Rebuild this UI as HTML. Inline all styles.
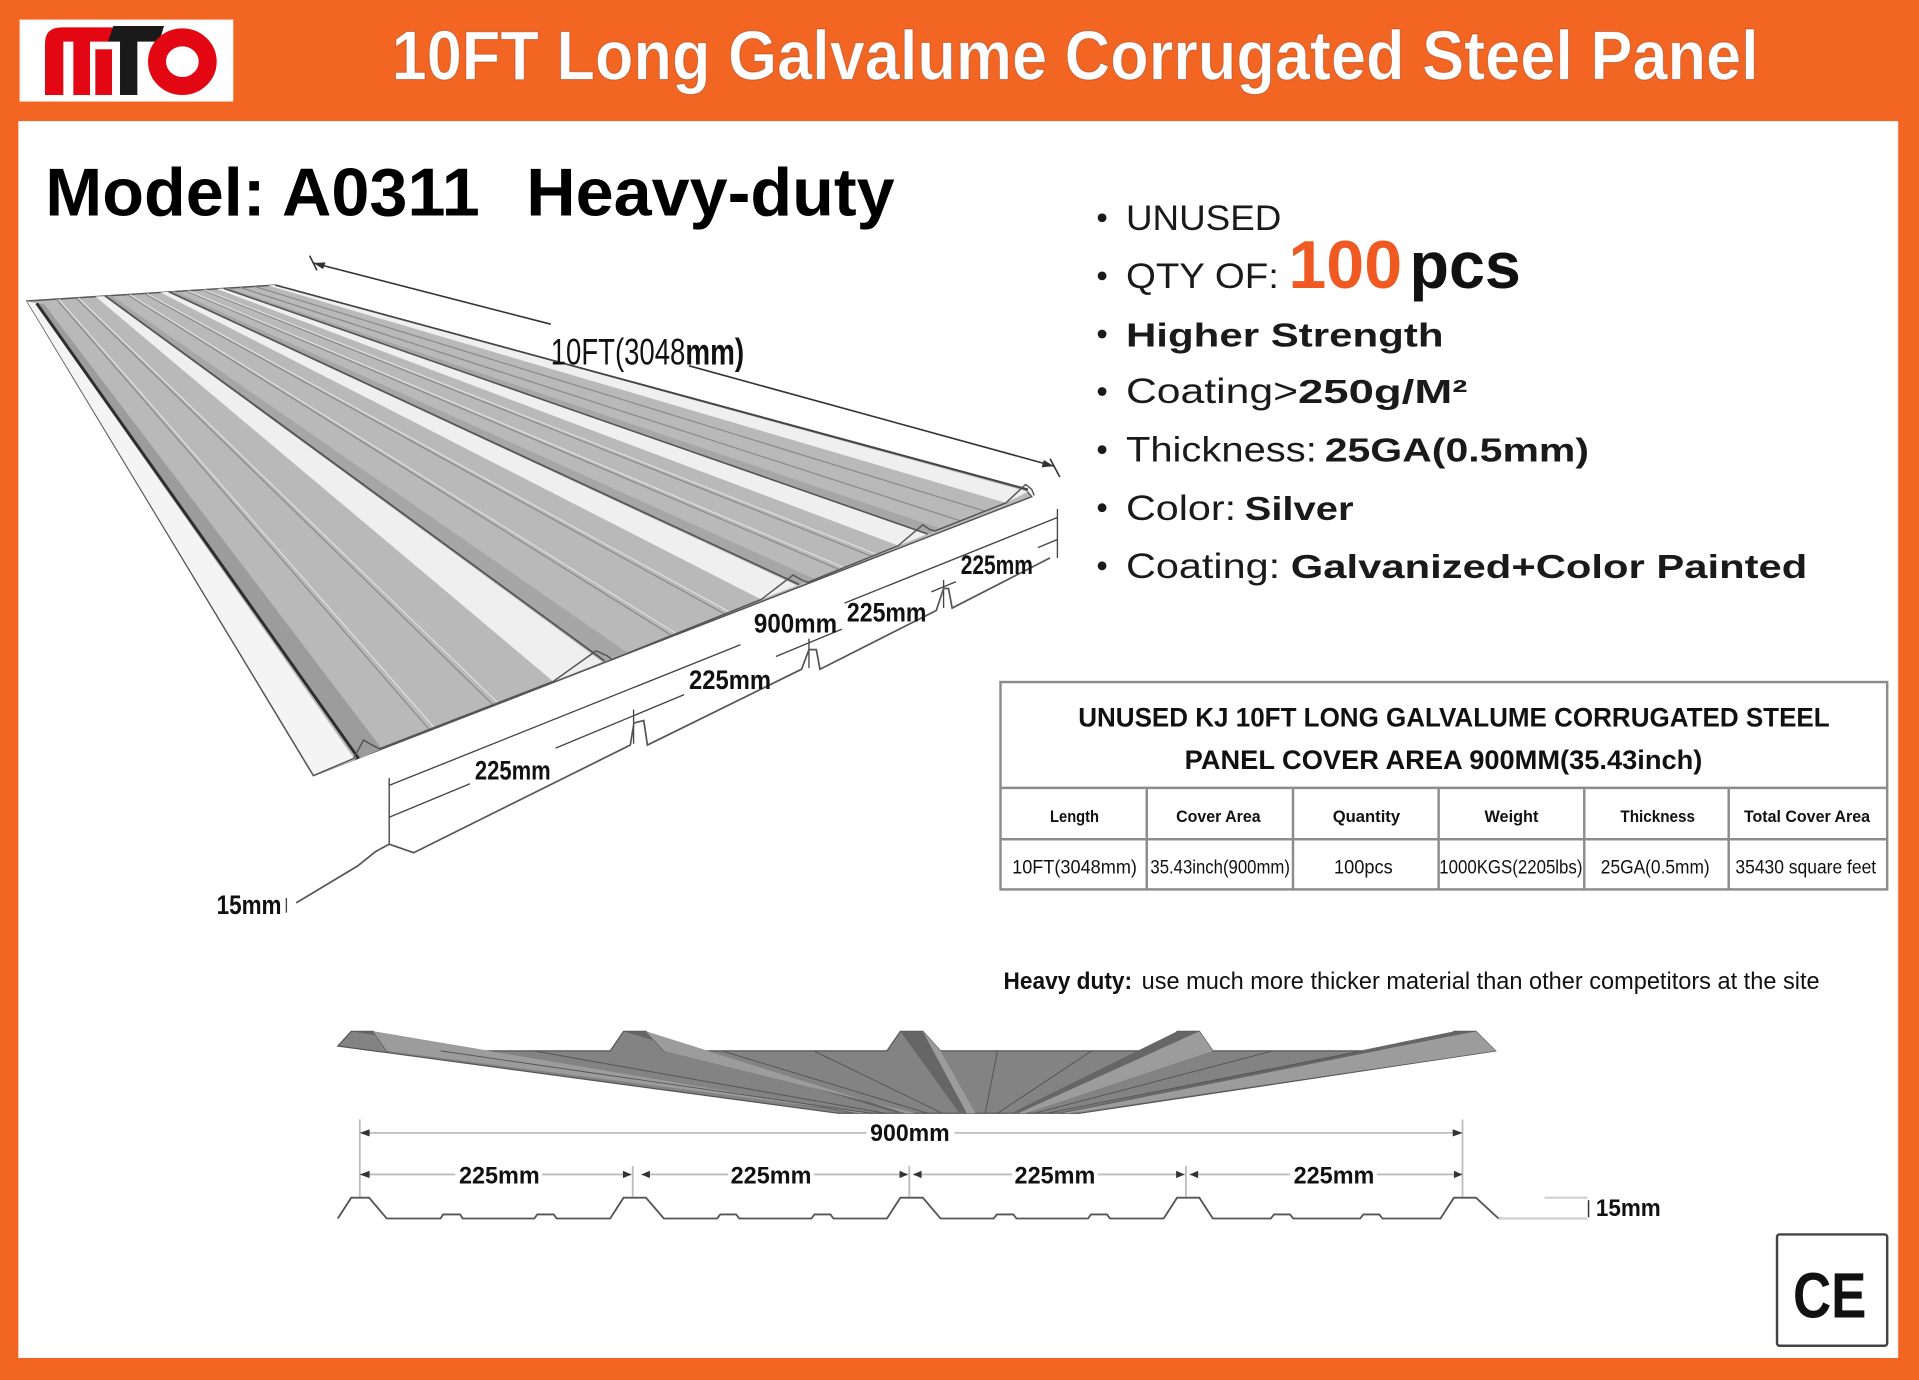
<!DOCTYPE html>
<html><head><meta charset="utf-8">
<style>
html,body{margin:0;padding:0;background:#F26522;overflow:hidden;width:1919px;height:1380px}
svg{display:block}
text{font-family:"Liberation Sans",Arial,sans-serif}
</style></head><body>
<svg width="1919" height="1380" viewBox="0 0 1568 1128" preserveAspectRatio="none" xmlns="http://www.w3.org/2000/svg">
<!-- frame -->
<rect width="1568" height="1128" fill="#F26522"/>
<rect x="15" y="99" width="1536" height="1011" fill="#ffffff"/>

<!-- logo -->
<rect x="16" y="16" width="174.6" height="67" fill="#ffffff"/>
<g transform="translate(16.34,16.34) scale(0.2724)">
  <path d="M75,225 V70 Q75,22 125,22 H285 L268,65 H210 V225 H160 V65 H130 V225 Z" fill="#E30613"/>
  <rect x="226" y="88" width="50" height="137" fill="#E30613"/>
  <path d="M280,18 H432 L418,65 H352 V225 H300 V65 H264 Z" fill="#1a1a1a"/>
  <ellipse cx="487" cy="125" rx="76" ry="73" fill="none" stroke="#E30613" stroke-width="54"/>
</g>

<!-- header title -->
<text x="320" y="65" font-size="57" font-weight="bold" fill="#ffffff" stroke="#9a3a12" stroke-width="0.8" stroke-opacity="0.5" textLength="1117" lengthAdjust="spacingAndGlyphs">10FT Long Galvalume Corrugated Steel Panel</text>

<!-- model -->
<text x="37" y="176" font-size="55" font-weight="bold" fill="#000" textLength="355" lengthAdjust="spacingAndGlyphs">Model: A0311</text>
<text x="430" y="176" font-size="55" font-weight="bold" fill="#000" textLength="301" lengthAdjust="spacingAndGlyphs">Heavy-duty</text>

<!-- bullets -->
<g fill="#1a1a1a">
  <circle cx="900.5" cy="178" r="3.6"/>
  <circle cx="900.5" cy="225.5" r="3.6"/>
  <circle cx="900.5" cy="273" r="3.6"/>
  <circle cx="900.5" cy="320" r="3.6"/>
  <circle cx="900.5" cy="367.5" r="3.6"/>
  <circle cx="900.5" cy="415" r="3.6"/>
  <circle cx="900.5" cy="462.5" r="3.6"/>
</g>
<g fill="#1a1a1a" font-size="28.5">
  <text x="920" y="188" textLength="127" lengthAdjust="spacingAndGlyphs">UNUSED</text>
  <text x="920" y="235.6" textLength="125" lengthAdjust="spacingAndGlyphs">QTY OF:</text>
  <text x="1052.7" y="235.6" font-size="55" font-weight="bold" fill="#F05A22" textLength="93" lengthAdjust="spacingAndGlyphs">100</text>
  <text x="1151.7" y="235.6" font-size="54" font-weight="bold" fill="#111" textLength="91" lengthAdjust="spacingAndGlyphs">pcs</text>
  <text x="920" y="283.3" font-size="27" font-weight="bold" textLength="259.5" lengthAdjust="spacingAndGlyphs">Higher Strength</text>
  <text x="920" y="329.6" textLength="140.6" lengthAdjust="spacingAndGlyphs">Coating&gt;</text>
  <text x="1060.6" y="329.6" font-size="27" font-weight="bold" textLength="138.4" lengthAdjust="spacingAndGlyphs">250g/M²</text>
  <text x="920" y="377.3" textLength="156" lengthAdjust="spacingAndGlyphs">Thickness:</text>
  <text x="1082.4" y="377.3" font-size="27" font-weight="bold" textLength="216" lengthAdjust="spacingAndGlyphs">25GA(0.5mm)</text>
  <text x="920" y="425" textLength="90" lengthAdjust="spacingAndGlyphs">Color:</text>
  <text x="1017" y="425" font-size="27" font-weight="bold" textLength="89" lengthAdjust="spacingAndGlyphs">Silver</text>
  <text x="920" y="472.6" textLength="126" lengthAdjust="spacingAndGlyphs">Coating:</text>
  <text x="1054.7" y="472.6" font-size="27" font-weight="bold" textLength="422" lengthAdjust="spacingAndGlyphs">Galvanized+Color Painted</text>
</g>

<!-- 3D corrugated sheet -->
<g>
  <polygon points="22,246 225,233 838,400 843,406 256,634" fill="#b9b9b9" stroke="#555" stroke-width="1.2"/>
  <!-- rib 0 (left edge) -->
  <polygon points="22,246 29,248 290,621 257,634" fill="#f4f4f4"/>
  <polygon points="31,248 36,248.5 312,612 294,620" fill="#9c9c9c"/>
  <line x1="30" y1="248" x2="293" y2="620" stroke="#2e2e2e" stroke-width="2.4"/>
  <!-- pan 0 stiffeners -->
  <line x1="46" y1="244.5" x2="351" y2="596.6" stroke="#8a8a8a" stroke-width="1"/>
  <line x1="48" y1="244.5" x2="355" y2="595" stroke="#dedede" stroke-width="1"/>
  <line x1="62" y1="243.4" x2="403" y2="576.2" stroke="#8a8a8a" stroke-width="1"/>
  <line x1="64" y1="243.4" x2="407" y2="574.6" stroke="#dedede" stroke-width="1"/>
  <!-- rib 1 -->
  <polygon points="78,242.4 85,242 492,541 452,557" fill="#efefef"/>
  <polygon points="87,241.8 91,241.6 512,533 495,540" fill="#a6a6a6"/>
  <line x1="86" y1="241.9" x2="494" y2="540.3" stroke="#555" stroke-width="1.5"/>
  <!-- pan 1 stiffeners -->
  <line x1="104" y1="240.8" x2="548" y2="519" stroke="#8a8a8a" stroke-width="1"/>
  <line x1="106" y1="240.8" x2="552" y2="517.5" stroke="#dedede" stroke-width="1"/>
  <line x1="118" y1="240" x2="592" y2="501.8" stroke="#8a8a8a" stroke-width="1"/>
  <line x1="120" y1="240" x2="596" y2="500.2" stroke="#dedede" stroke-width="1"/>
  <!-- rib 2 -->
  <polygon points="131,239 137,238.6 651,478.6 622,490" fill="#efefef"/>
  <polygon points="139,238.4 143,238.2 665,473 653,477.5" fill="#a6a6a6"/>
  <line x1="138" y1="238.5" x2="653" y2="477.8" stroke="#555" stroke-width="1.4"/>
  <!-- pan 2 stiffeners -->
  <line x1="152" y1="237.7" x2="685" y2="465.2" stroke="#8a8a8a" stroke-width="1"/>
  <line x1="154" y1="237.7" x2="689" y2="463.6" stroke="#dedede" stroke-width="1"/>
  <line x1="165" y1="236.8" x2="712" y2="454.6" stroke="#8a8a8a" stroke-width="1"/>
  <line x1="167" y1="236.8" x2="716" y2="453" stroke="#dedede" stroke-width="1"/>
  <!-- rib 3 -->
  <polygon points="177,236.1 182,235.8 757,436.9 734,446" fill="#efefef"/>
  <polygon points="184,235.6 187,235.4 769,432.2 759,436.1" fill="#a6a6a6"/>
  <line x1="183" y1="235.7" x2="758" y2="436.5" stroke="#555" stroke-width="1.3"/>
  <!-- pan 3 stiffeners -->
  <line x1="196" y1="234.9" x2="785" y2="425.8" stroke="#8a8a8a" stroke-width="1"/>
  <line x1="208" y1="234.1" x2="805" y2="417.9" stroke="#8a8a8a" stroke-width="1"/>
  <!-- rib 4 (right edge) -->
  <polygon points="219,233.4 225,233 840,402 822,411" fill="#efefef"/>
  <line x1="225" y1="233" x2="840" y2="400" stroke="#444" stroke-width="1.4"/>
  <!-- near edge notches -->
  <polyline points="256,634 289,620 297,605 304,609 310,612 452,557 487,532 496,536 500,539 622,490 648,470 655,474 660,476 734,446 754,429 760,433 764,434 822,411 838,396 843,400 845,405" fill="none" stroke="#555" stroke-width="1.2"/>
</g>

<!-- 10FT dimension -->
<g stroke="#333" stroke-width="1.3" fill="none">
  <line x1="256" y1="215" x2="450" y2="265"/>
  <line x1="563" y1="299" x2="861" y2="381"/>
  <line x1="253" y1="209" x2="259" y2="221"/>
  <line x1="858" y1="375" x2="866" y2="390"/>
</g>
<polygon points="256,215 266,214.5 264,220" fill="#333"/>
<polygon points="861,381 851,382 853,376" fill="#333"/>
<text x="450" y="298" font-size="30" fill="#111" textLength="110" lengthAdjust="spacingAndGlyphs">10FT(3048</text>
<text x="560" y="298" font-size="30" font-weight="bold" fill="#111" textLength="48" lengthAdjust="spacingAndGlyphs">mm)</text>

<!-- near edge dimensions -->
<g stroke="#444" stroke-width="1.1" fill="none">
  <line x1="318" y1="642" x2="605" y2="527"/>
  <line x1="690" y1="493" x2="864" y2="423"/>
  <line x1="318" y1="668" x2="384" y2="640.6"/>
  <line x1="454" y1="611.5" x2="559" y2="567.8"/>
  <line x1="634" y1="536.6" x2="688" y2="514.2"/>
  <line x1="761" y1="483.8" x2="781" y2="475.5"/>
  <line x1="848" y1="447.6" x2="864" y2="441"/>
  <line x1="318" y1="636" x2="318" y2="690"/>
  <line x1="517.7" y1="580" x2="517.7" y2="608"/>
  <line x1="661" y1="522" x2="661" y2="546"/>
  <line x1="771" y1="474" x2="771" y2="497"/>
  <line x1="864" y1="416" x2="864" y2="456"/>
  <polyline points="242,738 292,708 307,696 318,690 338,697 515,609 518,591 526,589 529,609 655,547 661,531 667,531 670,547 765,499 771,481 775,481 778,497 858,456" stroke="#555" stroke-width="1.4"/>
  <line x1="234" y1="734" x2="234" y2="746"/>
</g>
<g font-weight="bold" fill="#111" font-size="22">
  <text x="388" y="637" textLength="62" lengthAdjust="spacingAndGlyphs">225mm</text>
  <text x="563" y="563" textLength="67" lengthAdjust="spacingAndGlyphs">225mm</text>
  <text x="616" y="517" textLength="68" lengthAdjust="spacingAndGlyphs">900mm</text>
  <text x="692" y="508" textLength="65" lengthAdjust="spacingAndGlyphs">225mm</text>
  <text x="785" y="469" textLength="59" lengthAdjust="spacingAndGlyphs">225mm</text>
  <text x="177" y="747" textLength="53" lengthAdjust="spacingAndGlyphs">15mm</text>
</g>

<!-- table -->
<g stroke="#8c8c8c" stroke-width="2" fill="none">
  <rect x="817.5" y="557.5" width="724.5" height="169.5"/>
  <line x1="817.5" y1="644" x2="1542" y2="644"/>
  <line x1="817.5" y1="686" x2="1542" y2="686"/>
  <line x1="937" y1="644" x2="937" y2="727"/>
  <line x1="1056.5" y1="644" x2="1056.5" y2="727"/>
  <line x1="1175.5" y1="644" x2="1175.5" y2="727"/>
  <line x1="1294.5" y1="644" x2="1294.5" y2="727"/>
  <line x1="1412.5" y1="644" x2="1412.5" y2="727"/>
</g>
<g fill="#111">
  <text x="881" y="594" font-size="22" font-weight="bold" textLength="614" lengthAdjust="spacingAndGlyphs">UNUSED KJ 10FT LONG GALVALUME CORRUGATED STEEL</text>
  <text x="968" y="628.5" font-size="22" font-weight="bold" textLength="423" lengthAdjust="spacingAndGlyphs">PANEL COVER AREA 900MM(35.43inch)</text>
  <g font-size="13.5" font-weight="bold">
    <text x="858" y="672" textLength="40" lengthAdjust="spacingAndGlyphs">Length</text>
    <text x="961" y="672" textLength="69" lengthAdjust="spacingAndGlyphs">Cover Area</text>
    <text x="1089" y="672" textLength="55" lengthAdjust="spacingAndGlyphs">Quantity</text>
    <text x="1213" y="672" textLength="44" lengthAdjust="spacingAndGlyphs">Weight</text>
    <text x="1324" y="672" textLength="61" lengthAdjust="spacingAndGlyphs">Thickness</text>
    <text x="1425" y="672" textLength="103" lengthAdjust="spacingAndGlyphs">Total Cover Area</text>
  </g>
  <g font-size="16">
    <text x="827" y="714" textLength="102" lengthAdjust="spacingAndGlyphs">10FT(3048mm)</text>
    <text x="940" y="714" textLength="114" lengthAdjust="spacingAndGlyphs">35.43inch(900mm)</text>
    <text x="1090" y="714" textLength="48" lengthAdjust="spacingAndGlyphs">100pcs</text>
    <text x="1176" y="714" textLength="117" lengthAdjust="spacingAndGlyphs">1000KGS(2205lbs)</text>
    <text x="1308" y="714" textLength="89" lengthAdjust="spacingAndGlyphs">25GA(0.5mm)</text>
    <text x="1418" y="714" textLength="115" lengthAdjust="spacingAndGlyphs">35430 square feet</text>
  </g>
</g>

<!-- heavy duty line -->
<text x="820" y="808.3" font-size="20" font-weight="bold" fill="#111" textLength="105" lengthAdjust="spacingAndGlyphs">Heavy duty:</text>
<text x="932.8" y="808.3" font-size="20" fill="#111" textLength="554" lengthAdjust="spacingAndGlyphs">use much more thicker material than other competitors at the site</text>

<!-- bottom fan (end view) -->
<g>
  <polygon points="276,855 287,843 305,843 316,859 498.6,859 509.5,843 527.8,843 542.4,859 724.7,859 735.7,843 754,843 768.5,859 950.8,859 961.8,843 980,843 991,859 1177,859 1188,843 1206,843 1222,859 882,910 685,910" fill="#838383" stroke="#555" stroke-width="1"/>
  <polygon points="287,843 305,843 702,910 697,910" fill="#666"/>
  <polygon points="305,843 316,859 710,910 702,910" fill="#9c9c9c"/>
  <polygon points="509.5,843 527.8,843 740,910 734,910" fill="#666"/>
  <polygon points="527.8,843 542.4,859 748,910 740,910" fill="#9c9c9c"/>
  <polygon points="735.7,843 754,843 790,910 784,910" fill="#666"/>
  <polygon points="754,843 768.5,859 797,910 790,910" fill="#9c9c9c"/>
  <polygon points="961.8,843 980,843 832,910 826,910" fill="#666"/>
  <polygon points="980,843 991,859 838,910 832,910" fill="#9c9c9c"/>
  <polygon points="1188,843 1206,843 868,910 862,910" fill="#666"/>
  <polygon points="1206,843 1222,859 874,910 868,910" fill="#9c9c9c"/>
  <g stroke="#555" stroke-width="0.8">
    <line x1="360" y1="859" x2="712" y2="910"/>
    <line x1="436" y1="859" x2="724" y2="910"/>
    <line x1="590" y1="859" x2="758" y2="910"/>
    <line x1="665" y1="859" x2="770" y2="910"/>
    <line x1="815" y1="859" x2="805" y2="910"/>
    <line x1="892" y1="859" x2="815" y2="910"/>
    <line x1="1040" y1="859" x2="845" y2="910"/>
    <line x1="1113" y1="859" x2="855" y2="910"/>
  </g>
</g>

<!-- bottom dimensions -->
<g stroke="#bdbdbd" stroke-width="1.5">
  <line x1="294" y1="926" x2="708" y2="926"/>
  <line x1="780" y1="926" x2="1195" y2="926"/>
  <line x1="294" y1="960" x2="372" y2="960"/>
  <line x1="443" y1="960" x2="516" y2="960"/>
  <line x1="524" y1="960" x2="595" y2="960"/>
  <line x1="665" y1="960" x2="742" y2="960"/>
  <line x1="746" y1="960" x2="827" y2="960"/>
  <line x1="897" y1="960" x2="968" y2="960"/>
  <line x1="972" y1="960" x2="1054" y2="960"/>
  <line x1="1125" y1="960" x2="1195" y2="960"/>
  <line x1="294" y1="915" x2="294" y2="978"/>
  <line x1="1195" y1="915" x2="1195" y2="978"/>
  <line x1="517" y1="953" x2="517" y2="978"/>
  <line x1="743" y1="953" x2="743" y2="978"/>
  <line x1="969" y1="953" x2="969" y2="978"/>
  <line x1="1224" y1="996" x2="1297" y2="996" stroke="#d4d4d4" stroke-width="2"/>
  <line x1="1262" y1="979" x2="1297" y2="979" stroke="#d4d4d4" stroke-width="2"/>
</g>
<g fill="#333">
  <polygon points="294,926 302,923 302,929"/>
  <polygon points="1195,926 1187,923 1187,929"/>
  <polygon points="294,960 302,957 302,963"/>
  <polygon points="516,960 509,957 509,963"/>
  <polygon points="524,960 531,957 531,963"/>
  <polygon points="742,960 735,957 735,963"/>
  <polygon points="746,960 753,957 753,963"/>
  <polygon points="968,960 961,957 961,963"/>
  <polygon points="972,960 979,957 979,963"/>
  <polygon points="1195,960 1188,957 1188,963"/>
</g>
<line x1="1298" y1="981" x2="1298" y2="995" stroke="#333" stroke-width="1.2"/>
<polyline points="276,996 287,979 301.6,979 316,996 360,996 362,992.7 376,992.7 378,996 436.6,996 439,992.7 452.5,992.7 454.8,996 498.6,996 509.5,979 527.8,979 542.4,996 586,996 588.5,992.7 601.5,992.7 604,996 663,996 665.5,992.7 678.5,992.7 681,996 724.7,996 735.7,979 754,979 768.5,996 812,996 814.5,992.7 828,992.7 830.5,996 889,996 891.5,992.7 904.5,992.7 907,996 950.8,996 961.8,979 980,979 991,996 1038.4,996 1041,992.7 1054,992.7 1056.7,996 1111.4,996 1114,992.7 1127,992.7 1129.6,996 1177,996 1188,979 1206,979 1224.4,996" fill="none" stroke="#555" stroke-width="1.5"/>
<g font-weight="bold" fill="#111" font-size="20">
  <text x="711" y="932.5" textLength="65" lengthAdjust="spacingAndGlyphs">900mm</text>
  <text x="375" y="967.5" textLength="66" lengthAdjust="spacingAndGlyphs">225mm</text>
  <text x="597" y="967.5" textLength="66" lengthAdjust="spacingAndGlyphs">225mm</text>
  <text x="829" y="967.5" textLength="66" lengthAdjust="spacingAndGlyphs">225mm</text>
  <text x="1057" y="967.5" textLength="66" lengthAdjust="spacingAndGlyphs">225mm</text>
  <text x="1304" y="994" textLength="53" lengthAdjust="spacingAndGlyphs">15mm</text>
</g>

<!-- CE mark -->
<rect x="1452" y="1009" width="90" height="91" rx="2" fill="#ffffff" stroke="#444" stroke-width="2"/>
<text x="1465" y="1077" font-size="52" font-weight="bold" fill="#111" textLength="60" lengthAdjust="spacingAndGlyphs">CE</text>
</svg>
</body></html>
